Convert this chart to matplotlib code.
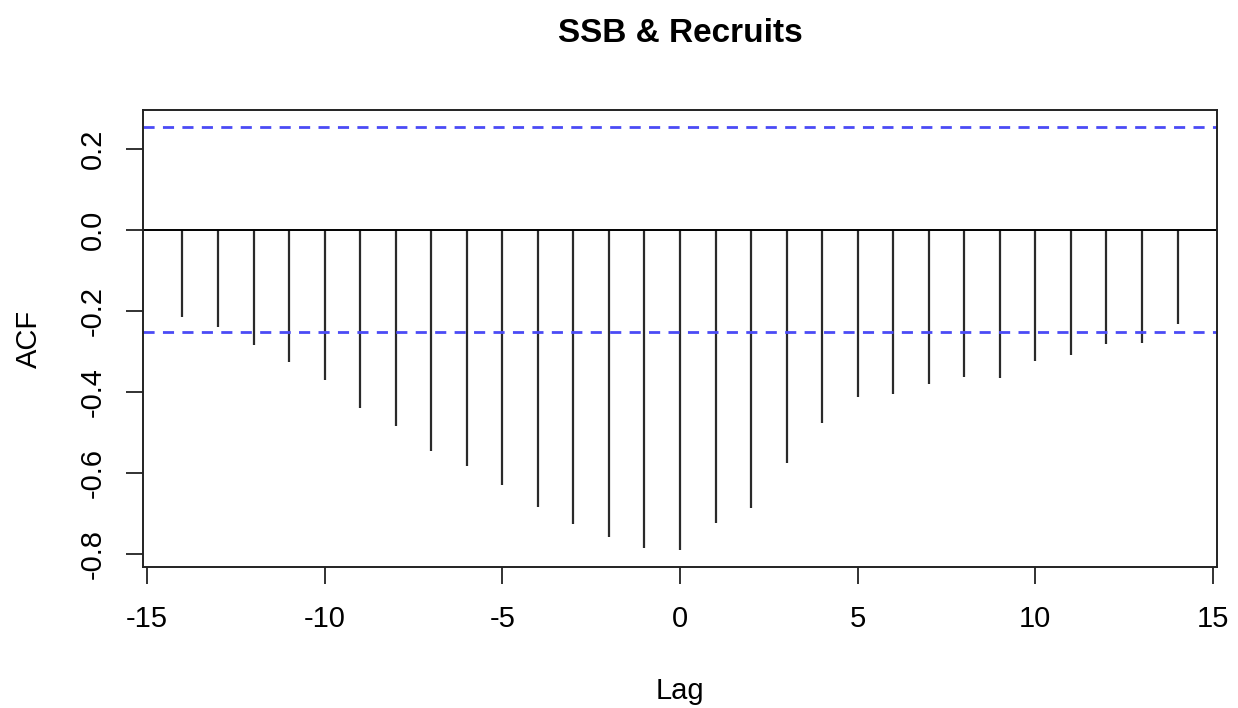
import numpy as np
import matplotlib
matplotlib.use("Agg")
from matplotlib import pyplot as plt

plt.rcParams['font.family'] = ['Liberation Sans', 'DejaVu Sans']
plt.rcParams['axes.unicode_minus'] = False

# cross-correlation values
lags = list(range(-14, 15))
acf = [-0.216, -0.239, -0.284, -0.325, -0.371, -0.439, -0.483, -0.546, -0.582,
       -0.630, -0.683, -0.726, -0.757, -0.784, -0.790, -0.724, -0.685, -0.575,
       -0.476, -0.412, -0.405, -0.380, -0.362, -0.366, -0.323, -0.309, -0.282,
       -0.278, -0.232]
conf = 0.253  # confidence bound
xticks = [-15, -10, -5, 0, 5, 10, 15]
yticks = [-0.8, -0.6, -0.4, -0.2, 0.0, 0.2]

fig = plt.figure(figsize=(12.38, 7.08), dpi=100)
ax = fig.add_axes([0.1155, 0.199, 0.8675, 0.6456])

ax.vlines(lags, 0, acf, colors='#2a2a2a', linewidth=1.6)
ax.axhline(0, color='black', linewidth=1.4)
ax.axhline(conf, color='#4b4bf5', linewidth=2, linestyle=(0, (4, 3)))
ax.axhline(-conf, color='#4b4bf5', linewidth=2, linestyle=(0, (4, 3)))

ax.set_xlim(-15.11, 15.11)
ax.set_ylim(-0.832, 0.296)
ax.set_xticks(xticks)
ax.set_xticklabels([str(t) for t in xticks])
ax.set_yticks(yticks)
ax.set_yticklabels(['%.1f' % t for t in yticks], rotation=90, va='center')
ax.tick_params(axis='both', labelsize=21, length=12, width=1.3, color='#222222')
ax.tick_params(axis='x', pad=15)
ax.tick_params(axis='y', pad=14)
for s in ax.spines.values():
    s.set_linewidth(1.4)
    s.set_color('#222222')

ax.set_title('SSB & Recruits', fontsize=24, fontweight='bold', pad=49)
ax.set_xlabel('Lag', fontsize=21, labelpad=32)
ax.set_ylabel('ACF', fontsize=21, labelpad=26)

plt.savefig('out.png', dpi=100)
